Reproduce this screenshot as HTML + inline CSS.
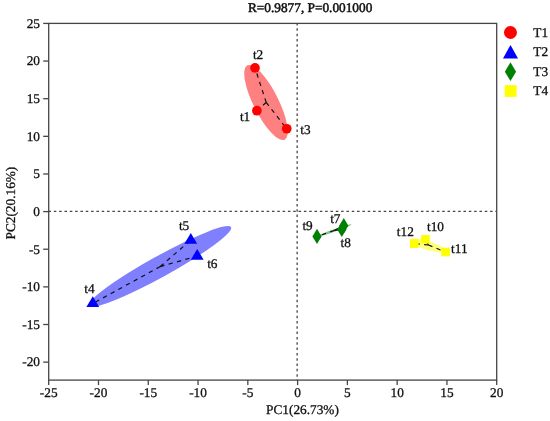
<!DOCTYPE html>
<html><head><meta charset="utf-8"><style>
html,body{margin:0;padding:0;background:#fff;}
svg{display:block;will-change:transform;}
text{fill:#111;text-rendering:geometricPrecision;stroke:#111;stroke-width:0.3px;}
text.b{stroke:none;}
</style></head><body>
<svg width="550" height="421" viewBox="0 0 550 421">
<ellipse cx="266.0" cy="102.5" rx="41.6" ry="12.5" transform="rotate(63.3 266.0 102.5)" fill="#ff8080"/>
<ellipse cx="160.0" cy="266.5" rx="81.2" ry="10.5" transform="rotate(-29.0 160.0 266.5)" fill="#8080ff"/>
<ellipse cx="334.2" cy="230.5" rx="18.6" ry="1.2" transform="rotate(-19.5 334.2 230.5)" fill="#80c080"/>
<ellipse cx="427.5" cy="245.5" rx="18.8" ry="4.5" transform="rotate(17 427.5 245.5)" fill="#ffff80"/>
<line x1="48.7" y1="211.29999999999998" x2="496.7" y2="211.29999999999998" stroke="#454545" stroke-width="1.3" stroke-dasharray="2.5 2.82" stroke-dashoffset="0.17"/>
<line x1="297.15" y1="23.4" x2="297.15" y2="380.1" stroke="#454545" stroke-width="1.3" stroke-dasharray="2.5 2.82" stroke-dashoffset="0.35"/>
<line x1="266.22" y1="102.45" x2="256.90" y2="110.70" stroke="#111" stroke-width="1.2" stroke-dasharray="4.3 4.4"/>
<line x1="266.22" y1="102.45" x2="255.00" y2="67.90" stroke="#111" stroke-width="1.2" stroke-dasharray="4.3 4.4"/>
<line x1="266.22" y1="102.45" x2="286.75" y2="128.75" stroke="#111" stroke-width="1.2" stroke-dasharray="4.3 4.4"/>
<line x1="160.27" y1="266.57" x2="92.80" y2="303.50" stroke="#111" stroke-width="1.2" stroke-dasharray="4.3 4.4"/>
<line x1="160.27" y1="266.57" x2="190.80" y2="240.10" stroke="#111" stroke-width="1.2" stroke-dasharray="4.3 4.4"/>
<line x1="160.27" y1="266.57" x2="197.20" y2="256.10" stroke="#111" stroke-width="1.2" stroke-dasharray="4.3 4.4"/>
<line x1="334.20" y1="230.50" x2="343.80" y2="225.70" stroke="#111" stroke-width="1.2" stroke-dasharray="4.3 4.4"/>
<line x1="334.20" y1="230.50" x2="341.80" y2="229.40" stroke="#111" stroke-width="1.2" stroke-dasharray="4.3 4.4"/>
<line x1="334.20" y1="230.50" x2="317.00" y2="236.40" stroke="#111" stroke-width="1.2" stroke-dasharray="4.3 4.4"/>
<line x1="428.43" y1="245.00" x2="425.45" y2="239.30" stroke="#111" stroke-width="1.2" stroke-dasharray="4.3 4.4"/>
<line x1="428.43" y1="245.00" x2="445.55" y2="252.05" stroke="#111" stroke-width="1.2" stroke-dasharray="4.3 4.4"/>
<line x1="428.43" y1="245.00" x2="414.30" y2="243.65" stroke="#111" stroke-width="1.2" stroke-dasharray="4.3 4.4"/>
<circle cx="256.9" cy="110.7" r="4.85" fill="#ff0000"/>
<circle cx="255.0" cy="67.9" r="4.85" fill="#ff0000"/>
<circle cx="286.75" cy="128.75" r="4.85" fill="#ff0000"/>
<polygon points="92.8,296.3 99.2,307.1 86.39999999999999,307.1" fill="#0000ff"/>
<polygon points="190.8,232.9 197.20000000000002,243.70000000000002 184.4,243.70000000000002" fill="#0000ff"/>
<polygon points="197.2,248.90000000000003 203.6,259.70000000000005 190.79999999999998,259.70000000000005" fill="#0000ff"/>
<polygon points="343.8,218.1 348.40000000000003,225.7 343.8,233.29999999999998 339.2,225.7" fill="#008000"/>
<polygon points="341.8,221.8 346.40000000000003,229.4 341.8,237.0 337.2,229.4" fill="#008000"/>
<polygon points="317,228.8 321.6,236.4 317,244.0 312.4,236.4" fill="#008000"/>
<rect x="421.15" y="235.0" width="8.6" height="8.6" fill="#ffff00"/>
<rect x="441.25" y="247.75" width="8.6" height="8.6" fill="#ffff00"/>
<rect x="410.0" y="239.35" width="8.6" height="8.6" fill="#ffff00"/>
<text x="245.1" y="120.8" text-anchor="middle" font-family="Liberation Serif" font-size="13.3">t1</text>
<text x="258.1" y="59.2" text-anchor="middle" font-family="Liberation Serif" font-size="13.3">t2</text>
<text x="305.45" y="134.3" text-anchor="middle" font-family="Liberation Serif" font-size="13.3">t3</text>
<text x="89.5" y="293.1" text-anchor="middle" font-family="Liberation Serif" font-size="13.3">t4</text>
<text x="184.1" y="229.5" text-anchor="middle" font-family="Liberation Serif" font-size="13.3">t5</text>
<text x="212.3" y="267.5" text-anchor="middle" font-family="Liberation Serif" font-size="13.3">t6</text>
<text x="335.3" y="222.55" text-anchor="middle" font-family="Liberation Serif" font-size="13.3">t7</text>
<text x="345.75" y="246.9" text-anchor="middle" font-family="Liberation Serif" font-size="13.3">t8</text>
<text x="307.6" y="230.35" text-anchor="middle" font-family="Liberation Serif" font-size="13.3">t9</text>
<text x="435.45" y="231.0" text-anchor="middle" font-family="Liberation Serif" font-size="13.3">t10</text>
<text x="459.3" y="253.1" text-anchor="middle" font-family="Liberation Serif" font-size="13.3">t11</text>
<text x="405.3" y="236.3" text-anchor="middle" font-family="Liberation Serif" font-size="13.3">t12</text>
<rect x="48.7" y="23.4" width="448.0" height="356.70000000000005" fill="none" stroke="#454545" stroke-width="1.3"/>
<line x1="48.70" y1="380.1" x2="48.70" y2="385.1" stroke="#454545" stroke-width="1.3"/>
<text x="48.70" y="396.7" text-anchor="middle" font-family="Liberation Serif" font-size="13.3">-25</text>
<line x1="98.48" y1="380.1" x2="98.48" y2="385.1" stroke="#454545" stroke-width="1.3"/>
<text x="98.48" y="396.7" text-anchor="middle" font-family="Liberation Serif" font-size="13.3">-20</text>
<line x1="148.26" y1="380.1" x2="148.26" y2="385.1" stroke="#454545" stroke-width="1.3"/>
<text x="148.26" y="396.7" text-anchor="middle" font-family="Liberation Serif" font-size="13.3">-15</text>
<line x1="198.04" y1="380.1" x2="198.04" y2="385.1" stroke="#454545" stroke-width="1.3"/>
<text x="198.04" y="396.7" text-anchor="middle" font-family="Liberation Serif" font-size="13.3">-10</text>
<line x1="247.82" y1="380.1" x2="247.82" y2="385.1" stroke="#454545" stroke-width="1.3"/>
<text x="247.82" y="396.7" text-anchor="middle" font-family="Liberation Serif" font-size="13.3">-5</text>
<line x1="297.60" y1="380.1" x2="297.60" y2="385.1" stroke="#454545" stroke-width="1.3"/>
<text x="297.60" y="396.7" text-anchor="middle" font-family="Liberation Serif" font-size="13.3">0</text>
<line x1="347.38" y1="380.1" x2="347.38" y2="385.1" stroke="#454545" stroke-width="1.3"/>
<text x="347.38" y="396.7" text-anchor="middle" font-family="Liberation Serif" font-size="13.3">5</text>
<line x1="397.16" y1="380.1" x2="397.16" y2="385.1" stroke="#454545" stroke-width="1.3"/>
<text x="397.16" y="396.7" text-anchor="middle" font-family="Liberation Serif" font-size="13.3">10</text>
<line x1="446.94" y1="380.1" x2="446.94" y2="385.1" stroke="#454545" stroke-width="1.3"/>
<text x="446.94" y="396.7" text-anchor="middle" font-family="Liberation Serif" font-size="13.3">15</text>
<line x1="496.72" y1="380.1" x2="496.72" y2="385.1" stroke="#454545" stroke-width="1.3"/>
<text x="496.72" y="396.7" text-anchor="middle" font-family="Liberation Serif" font-size="13.3">20</text>
<line x1="43.2" y1="362.14" x2="48.7" y2="362.14" stroke="#454545" stroke-width="1.3"/>
<text x="40" y="366.44" text-anchor="end" font-family="Liberation Serif" font-size="13.3">-20</text>
<line x1="43.2" y1="324.50" x2="48.7" y2="324.50" stroke="#454545" stroke-width="1.3"/>
<text x="40" y="328.81" text-anchor="end" font-family="Liberation Serif" font-size="13.3">-15</text>
<line x1="43.2" y1="286.87" x2="48.7" y2="286.87" stroke="#454545" stroke-width="1.3"/>
<text x="40" y="291.17" text-anchor="end" font-family="Liberation Serif" font-size="13.3">-10</text>
<line x1="43.2" y1="249.23" x2="48.7" y2="249.23" stroke="#454545" stroke-width="1.3"/>
<text x="40" y="253.53" text-anchor="end" font-family="Liberation Serif" font-size="13.3">-5</text>
<line x1="43.2" y1="211.60" x2="48.7" y2="211.60" stroke="#454545" stroke-width="1.3"/>
<text x="40" y="215.90" text-anchor="end" font-family="Liberation Serif" font-size="13.3">0</text>
<line x1="43.2" y1="173.97" x2="48.7" y2="173.97" stroke="#454545" stroke-width="1.3"/>
<text x="40" y="178.27" text-anchor="end" font-family="Liberation Serif" font-size="13.3">5</text>
<line x1="43.2" y1="136.33" x2="48.7" y2="136.33" stroke="#454545" stroke-width="1.3"/>
<text x="40" y="140.63" text-anchor="end" font-family="Liberation Serif" font-size="13.3">10</text>
<line x1="43.2" y1="98.69" x2="48.7" y2="98.69" stroke="#454545" stroke-width="1.3"/>
<text x="40" y="102.99" text-anchor="end" font-family="Liberation Serif" font-size="13.3">15</text>
<line x1="43.2" y1="61.06" x2="48.7" y2="61.06" stroke="#454545" stroke-width="1.3"/>
<text x="40" y="65.36" text-anchor="end" font-family="Liberation Serif" font-size="13.3">20</text>
<line x1="43.2" y1="23.42" x2="48.7" y2="23.42" stroke="#454545" stroke-width="1.3"/>
<text x="40" y="27.72" text-anchor="end" font-family="Liberation Serif" font-size="13.3">25</text>
<text x="310.15" y="12.2" text-anchor="middle" font-family="Liberation Serif" font-size="13.3" style="stroke-width:0.5px">R=0.9877, P=0.001000</text>
<text x="302.5" y="413.8" text-anchor="middle" font-family="Liberation Serif" font-size="13.3">PC1(26.73%)</text>
<text transform="translate(14.7 203.1) rotate(-90)" text-anchor="middle" font-family="Liberation Serif" font-size="13.3">PC2(20.16%)</text>
<circle cx="510.45" cy="32.5" r="6.5" fill="#ff0000"/>
<polygon points="510.5,44.9 518.0,58.5 503.0,58.5" fill="#0000ff"/>
<polygon points="510.45,62.35000000000001 516.05,71.65 510.45,80.95 504.84999999999997,71.65" fill="#008000"/>
<rect x="504.75" y="85.1" width="11.8" height="11.8" fill="#ffff00"/>
<text x="533.3" y="36.85" font-family="Liberation Serif" font-size="13.3">T1</text>
<text x="533.3" y="55.75" font-family="Liberation Serif" font-size="13.3">T2</text>
<text x="533.3" y="75.60" font-family="Liberation Serif" font-size="13.3">T3</text>
<text x="533.3" y="94.85" font-family="Liberation Serif" font-size="13.3">T4</text>
</svg>
</body></html>
